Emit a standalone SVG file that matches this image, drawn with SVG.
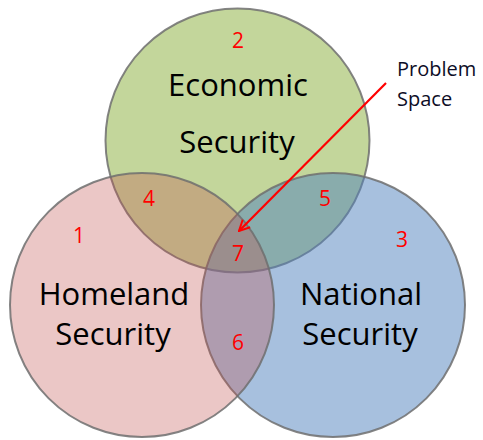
<svg xmlns="http://www.w3.org/2000/svg" width="483" height="440" viewBox="0 0 483 440">
<style>
.c{stroke:#6e6e6e;stroke-opacity:0.85;stroke-width:2}
.lbl{font-family:"Open Sans","Noto Sans",sans-serif;font-size:31px;fill:#000;text-anchor:middle}
.num{font-family:"Open Sans","Noto Sans",sans-serif;font-size:21px;fill:#ff0000;text-anchor:middle}
.ps{font-family:"Open Sans","Noto Sans",sans-serif;font-size:20px;fill:#0d0d26}
</style>
<defs>
<marker id="ah" viewBox="0 0 10 10" refX="9" refY="5" markerWidth="6" markerHeight="6" orient="auto" markerUnits="strokeWidth">
<path d="M1,1 L9,5 L1,9" fill="none" stroke="#ff0000" stroke-width="1.5"/>
</marker>
</defs>
<rect width="483" height="440" fill="#fff"/>
<g id="economic">
<circle class="c" cx="237.5" cy="140.5" r="132" fill="#9bbb59" fill-opacity="0.6"/>
</g>
<g id="national">
<circle class="c" cx="333" cy="305" r="132" fill="#4f81bd" fill-opacity="0.5"/>
</g>
<g id="homeland">
<circle class="c" cx="142" cy="305" r="132" fill="#c0504d" fill-opacity="0.32"/>
</g>
<g id="labels">
<text class="lbl" x="238" y="96">Economic</text>
<text class="lbl" x="237" y="153">Security</text>
<text class="lbl" x="114" y="305">Homeland</text>
<text class="lbl" x="113" y="345">Security</text>
<text class="lbl" x="361" y="305">National</text>
<text class="lbl" x="360" y="345">Security</text>
</g>
<g id="numbers">
<text class="num" x="238" y="48">2</text>
<text class="num" x="79" y="243">1</text>
<text class="num" x="402" y="247">3</text>
<text class="num" x="149" y="206">4</text>
<text class="num" x="325" y="206">5</text>
<text class="num" x="238" y="350">6</text>
<text class="num" x="238" y="261">7</text>
</g>
<g id="problem-space">
<text class="ps" x="397" y="76">Problem</text>
<text class="ps" x="397" y="106">Space</text>
</g>
<g id="connectors">
<line x1="386" y1="83" x2="239" y2="231" stroke="#ff0000" stroke-width="2.2" marker-end="url(#ah)"/>
</g>
</svg>
